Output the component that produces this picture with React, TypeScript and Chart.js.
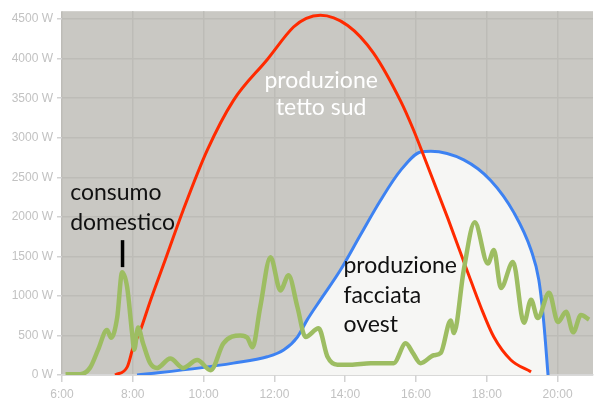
import React, { useEffect, useRef } from 'react';
import { Chart, registerables } from 'chart.js';

Chart.register(...registerables);

// produzione tetto sud (red)
const redHours = [7.5, 7.84, 8.01, 8.21, 8.49, 8.92, 9.42, 10.1, 10.84, 11.8, 12.54, 12.9, 13.3, 14.07, 14.8, 15.57, 15.91, 16.22, 16.9, 17.46, 17.83, 18.2, 18.68, 19.25];
const redWatts = [0, 100, 350, 560, 930, 1460, 2080, 2840, 3470, 3990, 4400, 4510, 4550, 4420, 4070, 3460, 3120, 2770, 1980, 1300, 860, 480, 190, 40];

// produzione facciata ovest (blue)
const blueHours = [8.12, 9.91, 10.84, 11.8, 12.26, 12.65, 12.93, 13.3, 13.87, 14.43, 15.0, 15.57, 16.13, 16.42, 17.35, 18.11, 18.77, 19.25, 19.47, 19.61, 19.73];
const blueWatts = [0, 90, 150, 230, 315, 480, 700, 950, 1330, 1770, 2210, 2590, 2820, 2830, 2720, 2460, 2050, 1580, 1200, 660, 0];

// consumo domestico (green)
const greenHours = [6.1, 6.51, 6.79, 7.02, 7.27, 7.39, 7.56, 7.7, 7.84, 7.98, 8.04, 8.15, 8.29, 8.49, 8.69, 9.06, 9.42, 9.82, 10.2, 10.56, 11.04, 11.24, 11.38, 11.6, 11.89, 12.17, 12.4, 12.65, 12.88, 13.25, 13.5, 13.78, 14.15, 14.72, 15.37, 15.71, 15.91, 16.13, 16.5, 16.7, 16.98, 17.07, 17.35, 17.66, 18.03, 18.2, 18.4, 18.74, 19.05, 19.25, 19.44, 19.76, 20.01, 20.24, 20.44, 20.66, 20.89];
const greenWatts = [10, 10, 90, 320, 570, 470, 730, 1300, 1110, 530, 320, 600, 400, 150, 90, 210, 90, 190, 60, 400, 500, 470, 350, 860, 1490, 1070, 1260, 860, 480, 590, 230, 130, 130, 150, 150, 400, 280, 150, 250, 280, 690, 530, 1330, 1930, 1410, 1580, 1100, 1430, 660, 950, 720, 1040, 670, 800, 540, 760, 700];

const xTicks = [6, 8, 10, 12, 14, 16, 18, 20];
const yTicks = [0, 500, 1000, 1500, 2000, 2500, 3000, 3500, 4000, 4500];

const pts = (h: number[], w: number[]) => h.map((x, i) => ({ x, y: w[i] }));

export default function App() {
  const ref = useRef<HTMLCanvasElement | null>(null);

  useEffect(() => {
    if (!ref.current) return;
    const bgPlugin = {
      id: 'bg',
      beforeDraw(chart: any) {
        const { ctx, chartArea } = chart;
        ctx.save();
        ctx.fillStyle = '#c9c8c3';
        ctx.fillRect(chartArea.left, chartArea.top, chartArea.right - chartArea.left, chartArea.bottom - chartArea.top);
        ctx.restore();
      },
    };
    const notes = {
      id: 'notes',
      afterDatasetsDraw(chart: any) {
        const { ctx } = chart;
        const xs = chart.scales.x;
        const ys = chart.scales.y;
        ctx.save();
        ctx.font = '23px Lato';
        ctx.textBaseline = 'alphabetic';
        // tetto sud
        ctx.fillStyle = '#ffffff';
        ctx.textAlign = 'center';
        const tx = xs.getPixelForValue(13.32);
        const ty = ys.getPixelForValue(3625);
        ctx.fillText('produzione', tx, ty);
        ctx.fillText('tetto sud', tx, ty + 27);
        // consumo
        ctx.fillStyle = '#111111';
        ctx.textAlign = 'left';
        const cx = xs.getPixelForValue(6.23);
        const cy = ys.getPixelForValue(2210);
        ctx.fillText('consumo', cx, cy);
        ctx.fillText('domestico', cx, cy + 30);
        // facciata
        const fx = xs.getPixelForValue(13.95);
        const fy = ys.getPixelForValue(1288);
        ctx.fillText('produzione', fx, fy);
        ctx.fillText('facciata', fx, fy + 29.5);
        ctx.fillText('ovest', fx, fy + 59);
        // marker bar
        ctx.strokeStyle = '#000000';
        ctx.lineWidth = 3.5;
        ctx.beginPath();
        const bx = xs.getPixelForValue(7.71);
        ctx.moveTo(bx, ys.getPixelForValue(1705));
        ctx.lineTo(bx, ys.getPixelForValue(1364));
        ctx.stroke();
        ctx.restore();
      },
    };
    const chart = new Chart(ref.current, {
      type: 'line',
      data: {
        datasets: [
          {
            label: 'consumo domestico',
            data: pts(greenHours, greenWatts),
            borderColor: '#9dbd62',
            borderWidth: 4.5,
            pointRadius: 0,
            cubicInterpolationMode: 'monotone',
            fill: false,
          },
          {
            label: 'produzione tetto sud',
            data: pts(redHours, redWatts),
            borderColor: '#ff2a00',
            borderWidth: 3,
            pointRadius: 0,
            cubicInterpolationMode: 'monotone',
            fill: false,
          },
          {
            label: 'produzione facciata ovest',
            data: pts(blueHours, blueWatts),
            borderColor: '#3d82f2',
            backgroundColor: '#f6f6f4',
            borderWidth: 3,
            pointRadius: 0,
            cubicInterpolationMode: 'monotone',
            fill: 'origin',
          },
        ],
      },
      options: {
        animation: false,
        responsive: false,
        layout: { padding: { top: 11, right: 4, left: 0, bottom: 0 } },
        plugins: { legend: { display: false }, tooltip: { enabled: false } },
        scales: {
          x: {
            type: 'linear',
            min: 6,
            max: 21,
            afterBuildTicks: (s: any) => {
              s.ticks = xTicks.map((v) => ({ value: v }));
            },
            afterFit: (s: any) => {
              s.height = 28;
            },
            ticks: {
              autoSkip: false,
              maxRotation: 0,
              padding: 5,
              color: '#c2c2c2',
              font: { family: 'Liberation Sans', size: 12 },
              callback: (v: any) => `${v}:00`,
            },
            grid: { color: '#bdbcb7', lineWidth: 1.5, tickLength: 7, tickColor: '#d2d2d2' },
            border: { display: true, color: '#d6d6d6', width: 1.5 },
          },
          y: {
            min: 0,
            max: 4600,
            afterBuildTicks: (s: any) => {
              s.ticks = yTicks.map((v) => ({ value: v }));
            },
            afterFit: (s: any) => {
              s.width = 62;
            },
            ticks: {
              padding: 4,
              color: '#c2c2c2',
              font: { family: 'Liberation Sans', size: 12 },
              callback: (v: any) => `${v} W`,
            },
            grid: { color: '#bdbcb7', lineWidth: 1.5, tickLength: 5, tickColor: '#d2d2d2' },
            border: { display: false },
          },
        },
      },
      plugins: [bgPlugin, notes],
    } as any);
    return () => chart.destroy();
  }, []);

  return (
    <div style={{ position: 'absolute', left: 0, top: 0, width: 597, height: 403, background: '#ffffff' }}>
      <canvas ref={ref} width={597} height={403} style={{ width: 597, height: 403, display: 'block' }} />
    </div>
  );
}
